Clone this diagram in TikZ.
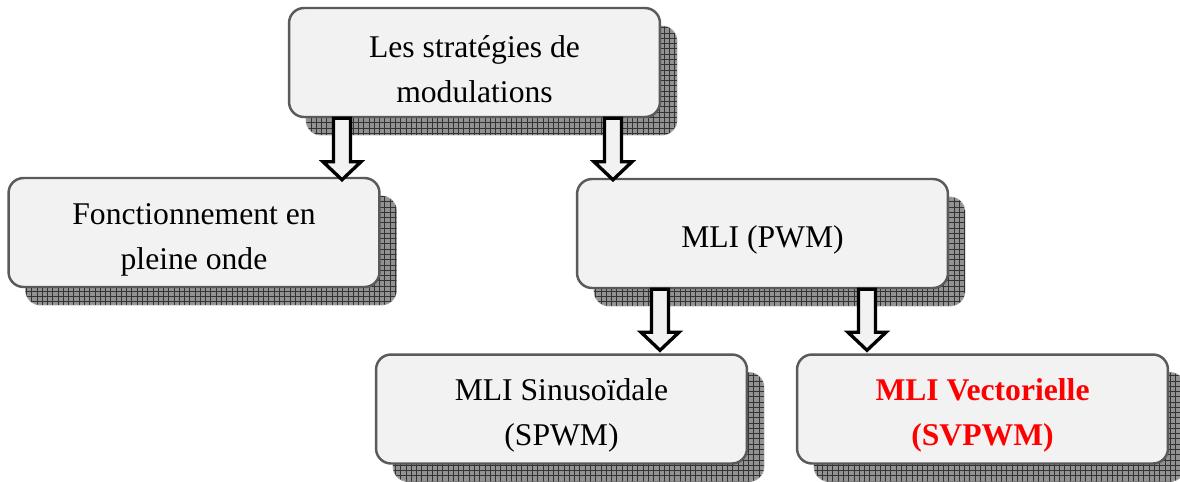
\documentclass[tikz,border=0pt]{standalone}
\usepackage{fontspec}
\setmainfont{Liberation Serif}
\usepackage{tikz}
\usetikzlibrary{calc,shadows,patterns}
\definecolor{boxfill}{HTML}{F2F2F2}
\definecolor{boxline}{HTML}{5A5A5A}
\definecolor{shadegray}{HTML}{929292}
\definecolor{keyred}{HTML}{FF0000}
\newcommand{\lowstrut}{\rule{0pt}{20pt}}

\begin{document}
\begin{tikzpicture}[
  x=0.02cm,y=-0.02cm,
  every node/.style={font=\fontsize{18}{25.6}\selectfont,align=center,inner sep=4pt},
  stratbox/.style={draw=boxline,fill=boxfill,rounded corners=0.3cm,line width=1.4pt,
    minimum width=7.42cm,minimum height=2.18cm,
    general shadow={shadow xshift=0.34cm,shadow yshift=-0.36cm,fill=shadegray,draw=black!35,line width=0.5pt},
    general shadow={shadow xshift=0.34cm,shadow yshift=-0.36cm,pattern=grid,pattern color=black!80}},
  blockarrow/.style={draw=black,fill=boxfill,line width=1.9pt,line join=miter,
    to path={($(\tikztostart)+(-8.5,0)$) -- ($(\tikztotarget)+(-8.5,-18)$)
      -- ($(\tikztotarget)+(-19,-18)$) -- (\tikztotarget) -- ($(\tikztotarget)+(19,-18)$)
      -- ($(\tikztotarget)+(8.5,-18)$) -- ($(\tikztostart)+(8.5,0)$) -- cycle}}
]
  \useasboundingbox (0,0) rectangle (1180,481);
  \node[stratbox] (strat) at (474.5,62.5) {\lowstrut Les stratégies de\\modulations};
  \node[stratbox] (onde) at (194,232.5) {\lowstrut Fonctionnement en\\pleine onde};
  \node[stratbox] (pwm) at (762.5,233.5) {\lowstrut MLI (PWM)};
  \node[stratbox] (spwm) at (561.5,409) {\lowstrut MLI Sinusoïdale\\(SPWM)};
  \node[stratbox,text=keyred,font=\fontsize{18}{25.6}\selectfont\bfseries] (svpwm) at (982.5,409) {\lowstrut MLI Vectorielle\\(SVPWM)};
  % fleches creuses
  \coordinate (s1) at ($(strat.south)+(-132.5,0)$);
  \coordinate (s2) at ($(strat.south)+(138.5,0)$);
  \coordinate (s3) at ($(pwm.south)+(-102.5,0)$);
  \coordinate (s4) at ($(pwm.south)+(104.5,0)$);
  \draw[blockarrow] (s1) to ($(s1 |- onde.north)+(0,3)$);
  \draw[blockarrow] (s2) to ($(s2 |- pwm.north)+(0,2)$);
  \draw[blockarrow] (s3) to ($(s3 |- spwm.north)+(0,-3)$);
  \draw[blockarrow] (s4) to ($(s4 |- svpwm.north)+(0,-3)$);
\end{tikzpicture}
\end{document}
